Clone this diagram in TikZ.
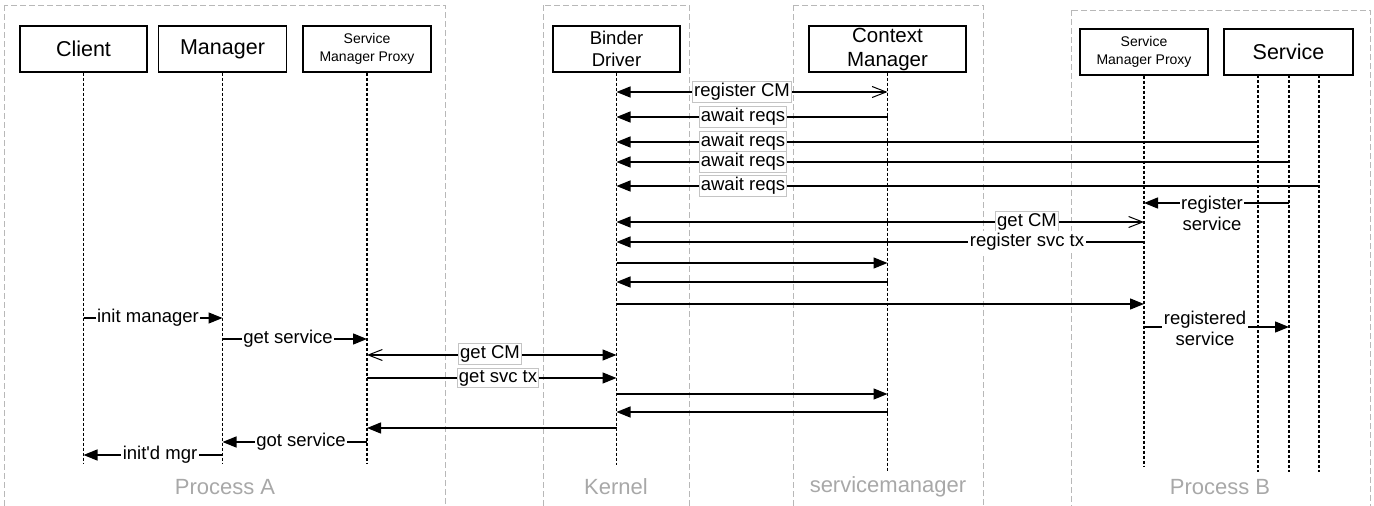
\documentclass[tikz,border=0pt]{standalone}
\usepackage{fontspec}
\setmainfont{Liberation Sans}
\usetikzlibrary{arrows.meta}
\definecolor{grpgray}{HTML}{B8B8B8}
\definecolor{grptext}{HTML}{A8A8A8}
\definecolor{boxgray}{HTML}{C4C4C4}
\newcommand{\fsz}[2]{\fontsize{#1}{#2}\selectfont}
\tikzset{
  grp/.style={draw=grpgray, line width=1pt, dash pattern=on 6pt off 3pt},
  grplbl/.style={text=grptext, font=\fsz{22}{26}, inner sep=0pt},
  actor/.style={draw=black, line width=1.4pt, fill=white, inner sep=0pt, align=center, minimum height=46pt},
  life/.style={line width=1.2pt, dash pattern=on 3pt off 2pt},
  msg/.style={line width=1.4pt},
  fwd/.style={-{Triangle[length=14pt,width=11pt]}},
  fo/.style={{Triangle[length=14pt,width=11pt]}-{Straight Barb[length=14pt,width=11pt,line width=1pt]}},
  of/.style={{Straight Barb[length=14pt,width=11pt,line width=1pt]}-{Triangle[length=14pt,width=11pt]}},
  lbl/.style={fill=white, inner xsep=1.5pt, inner ysep=2pt, font=\fsz{18.5}{21}, align=center},
  lblbox/.style={lbl, draw=boxgray, line width=1pt},
}
\begin{document}
\begin{tikzpicture}[x=1pt,y=-1pt]
\useasboundingbox (0,0) rectangle (1374,506);
% groups
\draw[grp] (4,5) rectangle (445,520);
\draw[grp] (543,5) rectangle (689,520);
\draw[grp] (793,5) rectangle (983,520);
\draw[grp] (1071,10) rectangle (1370,520);
\node[grplbl] (gA) at (225,487) {Process A};
\node[grplbl] (gK) at (616,487) {Kernel};
\node[grplbl] (gS) at (888,487) {servicemanager};
\node[grplbl] (gB) at (1220,487) {Process B};
% actors
\node[actor, minimum width=127pt, font=\fsz{21.5}{25}] (cl) at (83.5,49) {Client};
\node[actor, minimum width=128pt, font=\fsz{21.5}{25}] (mg) at (222.5,49) {Manager};
\node[actor, minimum width=128pt, font=\fsz{14}{18}] (spa) at (367,49) {Service\\Manager Proxy};
\node[actor, minimum width=127pt, font=\fsz{18.5}{22}] (bd) at (616.5,49) {Binder\\Driver};
\node[actor, minimum width=157pt, font=\fsz{20.5}{24}] (cm) at (887.5,49) {Context\\Manager};
\node[actor, minimum width=128pt, font=\fsz{14}{18}] (spb) at (1144,52) {Service\\Manager Proxy};
\node[actor, minimum width=129pt, font=\fsz{21.5}{25}] (sv) at (1288.5,52) {Service};
\coordinate (s1) at (1258,75);
\coordinate (s2) at (1289,75);
\coordinate (s3) at (1319,75);
% lifelines
\draw[life] (cl.south) -- (cl.south |- 0,463);
\draw[life] (mg.south) -- (mg.south |- 0,463);
\draw[life] (spa.south) -- (spa.south |- 0,463);
\draw[life] (bd.south) -- (bd.south |- 0,465);
\draw[life] (cm.south) -- (cm.south |- 0,472);
\draw[life] (spb.south) -- (spb.south |- 0,467);
\draw[life] (s1) -- (s1 |- 0,472);
\draw[life] (s2) -- (s2 |- 0,472);
\draw[life] (s3) -- (s3 |- 0,472);
% messages
\draw[msg, fo] (bd |- 0,92) -- (cm |- 0,92);
\node[lblbox] (m1) at (742,92) {register CM};
\draw[msg, fwd] (cm |- 0,117) -- (bd |- 0,117);
\node[lblbox] (m2) at (743,117) {await reqs};
\draw[msg, fwd] (s1 |- 0,142) -- (bd |- 0,142);
\node[lblbox] (m3) at (743,142) {await reqs};
\draw[msg, fwd] (s2 |- 0,162) -- (bd |- 0,162);
\node[lblbox] (m4) at (743,162) {await reqs};
\draw[msg, fwd] (s3 |- 0,186) -- (bd |- 0,186);
\node[lblbox] (m5) at (743,186) {await reqs};
\draw[msg, fwd] (s2 |- 0,203) -- (spb |- 0,203);
\node[lbl, inner ysep=0pt] (m6) at (1212,213) {register\\service};
\draw[msg, fo] (bd |- 0,222) -- (spb |- 0,222);
\node[lblbox] (m7) at (1027,222) {get CM};
\draw[msg, fwd] (spb |- 0,242) -- (bd |- 0,242);
\node[lbl] (m8) at (1027,242) {register svc tx};
\draw[msg, fwd] (bd |- 0,263) -- (cm |- 0,263);
\draw[msg, fwd] (cm |- 0,282) -- (bd |- 0,282);
\draw[msg, fwd] (bd |- 0,304) -- (spb |- 0,304);
\draw[msg, fwd] (cl.south |- 0,318) -- (mg.south |- 0,318);
\node[lbl] (m12) at (148,318) {init manager};
\draw[msg, fwd] (spb |- 0,327) -- (s2 |- 0,327);
\node[lbl, inner ysep=0pt] (m13) at (1205,328) {registered\\service};
\draw[msg, fwd] (mg.south |- 0,339) -- (spa.south |- 0,339);
\node[lbl] (m14) at (288,339) {get service};
\draw[msg, of] (spa.south |- 0,355) -- (bd |- 0,355);
\node[lblbox] (m15) at (490,354) {get CM};
\draw[msg, fwd] (spa.south |- 0,378) -- (bd |- 0,378);
\node[lblbox] (m16) at (498,378) {get svc tx};
\draw[msg, fwd] (bd |- 0,394) -- (cm |- 0,394);
\draw[msg, fwd] (cm |- 0,412) -- (bd |- 0,412);
\draw[msg, fwd] (bd |- 0,428) -- (spa.south |- 0,428);
\draw[msg, fwd] (spa.south |- 0,442) -- (mg.south |- 0,442);
\node[lbl] (m20) at (301,442) {got service};
\draw[msg, fwd] (mg.south |- 0,455) -- (cl.south |- 0,455);
\node[lbl] (m21) at (160,455) {init\textquotesingle d mgr};
\end{tikzpicture}
\end{document}
